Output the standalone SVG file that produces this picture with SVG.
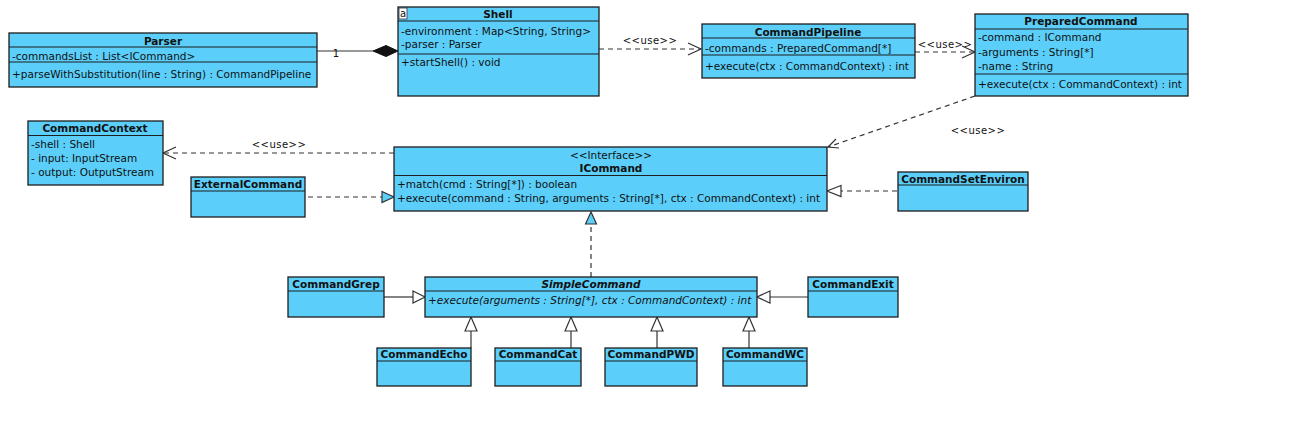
<svg xmlns="http://www.w3.org/2000/svg" width="1307" height="423" viewBox="0 0 1307 423">
<style>
.box{fill:#5bcffa;stroke:#1e1e1e;stroke-width:1.3}
.sep{stroke:#1e1e1e;stroke-width:1.2}
text{font-family:"DejaVu Sans","Liberation Sans",sans-serif;font-size:10.5px;fill:#111}
.t{font-weight:bold;text-anchor:middle}
.c{text-anchor:middle}
.i{font-style:italic}
.lbl{font-size:10px;text-anchor:middle;letter-spacing:0.5px}
.dash{fill:none;stroke:#333;stroke-width:1.2;stroke-dasharray:5,4}
.solid{fill:none;stroke:#333;stroke-width:1.2}
.open{fill:none;stroke:#333;stroke-width:1.2}
.triB{fill:#5bcffa;stroke:#333;stroke-width:1.2}
.triW{fill:#fff;stroke:#333;stroke-width:1.2}
</style>
<rect width="1307" height="423" fill="#fff"/>

<g id="connectors">
  <!-- Parser - Shell composition -->
  <line class="solid" x1="317" y1="51" x2="373" y2="51"/>
  <polygon points="373,51 386,45.5 398,51 386,56.5" fill="#111" stroke="#111" stroke-width="1"/>
  <text x="336" y="57" class="c" style="font-size:10px">1</text>
  <!-- Shell -> CommandPipeline -->
  <line class="dash" x1="599" y1="49" x2="701" y2="49"/>
  <polyline class="open" points="688,43 701,49 688,55"/>
  <text x="650" y="44" class="lbl">&lt;&lt;use&gt;&gt;</text>
  <!-- CommandPipeline -> PreparedCommand -->
  <line class="dash" x1="915" y1="52" x2="975" y2="52"/>
  <polyline class="open" points="962,46 975,52 962,58"/>
  <text x="945" y="48" class="lbl">&lt;&lt;use&gt;&gt;</text>
  <!-- PreparedCommand -> ICommand -->
  <line class="dash" x1="975" y1="96" x2="828" y2="147"/>
  <polyline class="open" points="836,139 828,147 839,148"/>
  <text x="978" y="134" class="lbl">&lt;&lt;use&gt;&gt;</text>
  <!-- ICommand -> CommandContext -->
  <line class="dash" x1="394" y1="153" x2="163" y2="153"/>
  <polyline class="open" points="176,147 163,153 176,159"/>
  <text x="279" y="148" class="lbl">&lt;&lt;use&gt;&gt;</text>
  <!-- ExternalCommand realizes ICommand -->
  <line class="dash" x1="308" y1="197" x2="382" y2="197"/>
  <polygon class="triB" points="382,191.5 394,197 382,202.5"/>
  <!-- CommandSetEnviron realizes ICommand -->
  <line class="dash" x1="897" y1="191" x2="841" y2="191"/>
  <polygon class="triW" points="841,185.5 827,191 841,196.5"/>
  <!-- SimpleCommand realizes ICommand -->
  <line class="dash" x1="591" y1="277" x2="591" y2="224"/>
  <polygon class="triB" points="585.5,224 591,212 596.5,224"/>
  <!-- CommandGrep -> SimpleCommand -->
  <line class="solid" x1="384" y1="297" x2="413" y2="297"/>
  <polygon class="triW" points="413,291 425,297 413,303"/>
  <!-- CommandExit -> SimpleCommand -->
  <line class="solid" x1="808" y1="297" x2="770" y2="297"/>
  <polygon class="triW" points="770,291 757,297 770,303"/>
  <!-- bottom subclasses -->
  <line class="solid" x1="471" y1="348" x2="471" y2="331"/>
  <polygon class="triW" points="465,331 471,317 477,331"/>
  <line class="solid" x1="571" y1="348" x2="571" y2="331"/>
  <polygon class="triW" points="565,331 571,317 577,331"/>
  <line class="solid" x1="657" y1="348" x2="657" y2="331"/>
  <polygon class="triW" points="651,331 657,317 663,331"/>
  <line class="solid" x1="749" y1="348" x2="749" y2="331"/>
  <polygon class="triW" points="743,331 749,317 755,331"/>
</g>

<g id="Parser">
  <rect class="box" x="9" y="33" width="308" height="54"/>
  <line class="sep" x1="9" y1="47" x2="317" y2="47"/>
  <line class="sep" x1="9" y1="62" x2="317" y2="62"/>
  <text x="163" y="44.5" class="t">Parser</text>
  <text x="12" y="60">-commandsList : List&lt;ICommand&gt;</text>
  <text x="12" y="78">+parseWithSubstitution(line : String) : CommandPipeline</text>
</g>

<g id="Shell">
  <rect class="box" x="398" y="7" width="201" height="89"/>
  <line class="sep" x1="398" y1="21" x2="599" y2="21"/>
  <line class="sep" x1="398" y1="54" x2="599" y2="54"/>
  <rect x="399" y="8" width="8" height="11" fill="#fff" stroke="#333" stroke-width="0.8"/>
  <text x="400" y="17" style="font-size:10px">a</text>
  <text x="498" y="18" class="t">Shell</text>
  <text x="401" y="34.5">-environment : Map&lt;String, String&gt;</text>
  <text x="401" y="48">-parser : Parser</text>
  <text x="401" y="66">+startShell() : void</text>
</g>

<g id="CommandPipeline">
  <rect class="box" x="702" y="24" width="213" height="54"/>
  <line class="sep" x1="702" y1="38" x2="915" y2="38"/>
  <line class="sep" x1="702" y1="55" x2="915" y2="55"/>
  <text x="808" y="35.5" class="t">CommandPipeline</text>
  <text x="705" y="51.5">-commands : PreparedCommand[*]</text>
  <text x="705" y="70">+execute(ctx : CommandContext) : int</text>
</g>

<g id="PreparedCommand">
  <rect class="box" x="975" y="14" width="213" height="82"/>
  <line class="sep" x1="975" y1="29" x2="1188" y2="29"/>
  <line class="sep" x1="975" y1="74" x2="1188" y2="74"/>
  <text x="1081" y="25" class="t">PreparedCommand</text>
  <text x="978" y="41">-command : ICommand</text>
  <text x="978" y="55.5">-arguments : String[*]</text>
  <text x="978" y="69.5">-name : String</text>
  <text x="978" y="88">+execute(ctx : CommandContext) : int</text>
</g>

<g id="CommandContext">
  <rect class="box" x="28" y="121" width="135" height="64"/>
  <line class="sep" x1="28" y1="135.5" x2="163" y2="135.5"/>
  <text x="95" y="132" class="t">CommandContext</text>
  <text x="31" y="148">-shell : Shell</text>
  <text x="31" y="162">- input: InputStream</text>
  <text x="31" y="176">- output: OutputStream</text>
</g>

<g id="ICommand">
  <rect class="box" x="394" y="147" width="433" height="64"/>
  <line class="sep" x1="394" y1="175.5" x2="827" y2="175.5"/>
  <text x="611" y="159" class="c">&lt;&lt;Interface&gt;&gt;</text>
  <text x="611" y="172" class="t">ICommand</text>
  <text x="397" y="188">+match(cmd : String[*]) : boolean</text>
  <text x="397" y="202">+execute(command : String, arguments : String[*], ctx : CommandContext) : int</text>
</g>

<g id="ExternalCommand">
  <rect class="box" x="191" y="177" width="114" height="40"/>
  <line class="sep" x1="191" y1="191" x2="305" y2="191"/>
  <text x="248" y="188" class="t">ExternalCommand</text>
</g>

<g id="CommandSetEnviron">
  <rect class="box" x="898" y="172" width="130" height="39"/>
  <line class="sep" x1="898" y1="185" x2="1028" y2="185"/>
  <text x="963" y="182.5" class="t">CommandSetEnviron</text>
</g>

<g id="SimpleCommand">
  <rect class="box" x="425" y="277" width="332" height="40"/>
  <line class="sep" x1="425" y1="291" x2="757" y2="291"/>
  <text x="591" y="288" class="t i">SimpleCommand</text>
  <text x="428" y="304" class="i">+execute(arguments : String[*], ctx : CommandContext) : int</text>
</g>

<g id="CommandGrep">
  <rect class="box" x="288" y="277" width="96" height="40"/>
  <line class="sep" x1="288" y1="291" x2="384" y2="291"/>
  <text x="336" y="288" class="t">CommandGrep</text>
</g>

<g id="CommandExit">
  <rect class="box" x="808" y="277" width="90" height="40"/>
  <line class="sep" x1="808" y1="291" x2="898" y2="291"/>
  <text x="853" y="288" class="t">CommandExit</text>
</g>

<g id="CommandEcho">
  <rect class="box" x="377" y="348" width="94" height="38"/>
  <line class="sep" x1="377" y1="361" x2="471" y2="361"/>
  <text x="424" y="358" class="t">CommandEcho</text>
</g>

<g id="CommandCat">
  <rect class="box" x="495" y="348" width="86" height="38"/>
  <line class="sep" x1="495" y1="361" x2="581" y2="361"/>
  <text x="538" y="358" class="t">CommandCat</text>
</g>

<g id="CommandPWD">
  <rect class="box" x="605" y="348" width="92" height="38"/>
  <line class="sep" x1="605" y1="361" x2="697" y2="361"/>
  <text x="651" y="358" class="t">CommandPWD</text>
</g>

<g id="CommandWC">
  <rect class="box" x="723" y="348" width="84" height="38"/>
  <line class="sep" x1="723" y1="361" x2="807" y2="361"/>
  <text x="765" y="358" class="t">CommandWC</text>
</g>
</svg>
